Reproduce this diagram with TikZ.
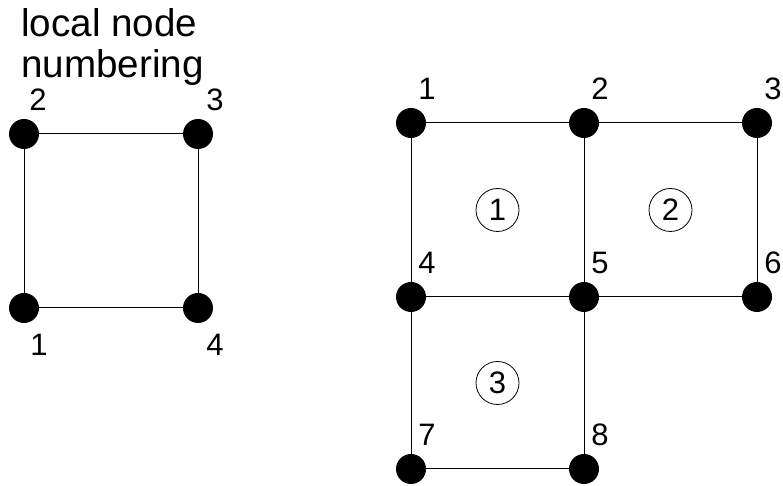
\documentclass[tikz,border=0pt]{standalone}
\usepackage{fontspec}
\setmainfont{Liberation Sans}
\usetikzlibrary{positioning,calc}

\tikzset{
  dot/.style={circle,fill=black,inner sep=0pt,minimum size=15pt},
  num/.style={inner sep=0pt,font=\fontsize{15.5}{17}\selectfont},
  elem/.style={circle,draw,line width=0.4pt,inner sep=0pt,minimum size=21.5pt,font=\fontsize{15.5}{17}\selectfont},
  edge/.style={line width=0.5pt}
}

\begin{document}
\begin{tikzpicture}[node distance=86.5pt,on grid,x=1pt,y=1pt]
   \useasboundingbox (0,0) rectangle (391.5,-243);
   % local element
   \node[anchor=north west,inner sep=0pt,align=left,font=\fontsize{19.3}{20.5}\selectfont] (title) at (10.5,-4) {local node\\numbering};
   \node[dot] (l2) at (12,-67) {};
   \node[dot] (l3) [right=87pt of l2] {};
   \node[dot] (l1) [below=87pt of l2] {};
   \node[dot] (l4) [right=87pt of l1] {};
   \draw[edge] (l2) -- (l3) -- (l4) -- (l1) -- (l2);
   \node[num] [above right=17pt and 7pt of l2] {2};
   \node[num] [above right=17pt and 8.5pt of l3] {3};
   \node[num] [below right=18.5pt and 7.5pt of l1] {1};
   \node[num] [below right=18.5pt and 8.5pt of l4] {4};
   % mesh
   \node[dot] (n1) at (205.5,-61.5) {};
   \node[dot] (n2) [right=of n1] {};
   \node[dot] (n3) [right=of n2] {};
   \node[dot] (n4) [below=87pt of n1] {};
   \node[dot] (n5) [right=of n4] {};
   \node[dot] (n6) [right=of n5] {};
   \node[dot] (n7) [below=86pt of n4] {};
   \node[dot] (n8) [right=of n7] {};
   \draw[edge] (n1) -- (n2) -- (n3) -- (n6) -- (n5) -- (n4) -- (n1);
   \draw[edge] (n2) -- (n5) -- (n8) -- (n7) -- (n4);
   \foreach \i in {1,...,8}
     \node[num] [above right=17pt and 8pt of n\i] {\i};
   \node[elem] (e1) at ($ (n1)!0.5!(n5) $) {1};
   \node[elem] (e2) at ($ (n2)!0.5!(n6) $) {2};
   \node[elem] (e3) at ($ (n4)!0.5!(n8) $) {3};
\end{tikzpicture}
\end{document}
